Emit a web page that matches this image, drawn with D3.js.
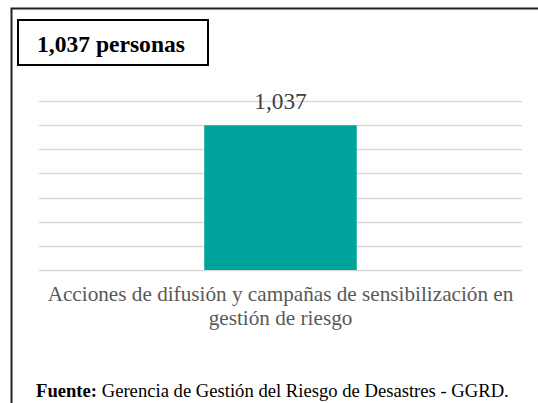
<!DOCTYPE html>
<html>
<head>
<meta charset="utf-8">
<script src="https://cdn.jsdelivr.net/npm/d3@7"></script>
</head>
<body style="margin:0; background:#fff">
<div id="chart"></div>
<script>
/************************************ Data *******************************/
var categories = ["Acciones de difusión y campañas de sensibilización en gestión de riesgo"];
var categoryLines = [["Acciones de difusión y campañas de sensibilización en", "gestión de riesgo"]];
var values = [1037];
var gridTicks = [0, 173, 346, 519, 692, 865, 1038, 1211];
var titleText = "1,037 personas";
var sourceLabel = "Fuente:";
var sourceText = " Gerencia de Gestión del Riesgo de Desastres - GGRD.";

/************************************ Setup *******************************/
var W = 538, H = 403;
var plot = {left: 39, right: 522, top: 101, bottom: 270};
var FONT = "Liberation Serif";

var svg = d3.select("#chart").append("svg")
	.attr("width", W)
	.attr("height", H)
	.attr("font-family", FONT);

// scale a text's font size so it spans the width seen in the reference
function fitWidth(sel, target) {
	var w = sel.node().getComputedTextLength();
	var fs = parseFloat(sel.attr("font-size"));
	if (w > 0) sel.attr("font-size", (fs * target / w).toFixed(2));
	return sel;
}

var x = d3.scaleBand()
	.domain(categories)
	.range([plot.left, plot.right])
	.padding(0.52);

var y = d3.scaleLinear()
	.domain([0, d3.max(gridTicks)])
	.range([plot.bottom, plot.top]);

var shapes = svg.append("g");
var labels = svg.append("g").attr("font-family", FONT);

// outer frame (top + left only visible)
shapes.append("path")
	.attr("d", "M11.5,403 L11.5,8.5 L538,8.5")
	.attr("fill", "none")
	.attr("stroke", "#222")
	.attr("stroke-width", 2);

/************************************ Grid *******************************/
shapes.append("g").selectAll("line")
	.data(gridTicks)
	.enter().append("line")
	.attr("x1", plot.left)
	.attr("x2", plot.right)
	.attr("y1", function(d){ return Math.round(y(d)) + 0.5; })
	.attr("y2", function(d){ return Math.round(y(d)) + 0.5; })
	.attr("stroke", "#d9d9d9")
	.attr("stroke-width", 1.3);

/************************************ Bars *******************************/
shapes.append("g").selectAll("rect")
	.data(values)
	.enter().append("rect")
	.attr("x", function(d, i){ return x(categories[i]); })
	.attr("y", function(d){ return y(d); })
	.attr("width", x.bandwidth())
	.attr("height", function(d){ return y(0) - y(d); })
	.attr("fill", "#00a39b");

/************************************ Title box *******************************/
shapes.append("rect")
	.attr("x", 18)
	.attr("y", 20)
	.attr("width", 190)
	.attr("height", 45)
	.attr("fill", "#fff")
	.attr("stroke", "#000")
	.attr("stroke-width", 2);

/************************************ Texts *******************************/
// value label
labels.append("g").selectAll("text")
	.data(values)
	.enter().append("text")
	.attr("x", function(d, i){ return x(categories[i]) + x.bandwidth() / 2; })
	.attr("y", function(d){ return y(d) - 16.5; })
	.attr("text-anchor", "middle")
	.attr("font-family", FONT)
	.attr("font-size", 20)
	.attr("fill", "#404040")
	.text(function(d){ return d3.format(",")(d); })
	.each(function(){ fitWidth(d3.select(this), 52.5); });

// category label, two lines
categories.forEach(function(c, i){
	var cx = x(c) + x.bandwidth() / 2;
	var first = labels.append("text")
		.attr("x", cx)
		.attr("y", 301)
		.attr("text-anchor", "middle")
		.attr("font-family", FONT)
		.attr("font-size", 18)
		.attr("fill", "#595959")
		.text(categoryLines[i][0]);
	fitWidth(first, 466);
	var fs = parseFloat(first.attr("font-size"));
	categoryLines[i].slice(1).forEach(function(line, j){
		labels.append("text")
			.attr("x", cx)
			.attr("y", 301 + Math.max(19, fs * 1.12) * (j + 1))
			.attr("text-anchor", "middle")
			.attr("font-family", FONT)
			.attr("font-size", fs)
			.attr("fill", "#595959")
			.text(line);
	});
});

var title = labels.append("text")
	.attr("x", 37)
	.attr("y", 51.5)
	.attr("font-family", FONT)
	.attr("font-size", 20)
	.attr("font-weight", "bold")
	.attr("fill", "#000")
	.text(titleText);
fitWidth(title, 148);

// source line
var src = labels.append("text")
	.attr("x", 36)
	.attr("y", 396.5)
	.attr("font-family", FONT)
	.attr("font-size", 15)
	.attr("fill", "#000");
src.append("tspan").attr("font-weight", "bold").text(sourceLabel);
src.append("tspan").text(sourceText);
fitWidth(src, 473);
</script>
</body>
</html>
